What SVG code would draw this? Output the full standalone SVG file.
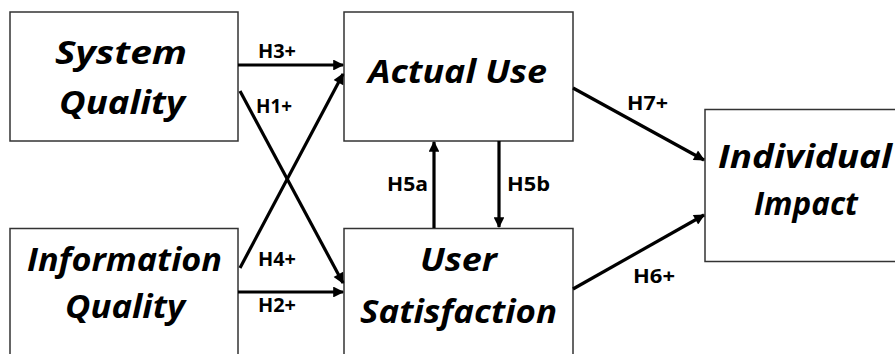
<svg xmlns="http://www.w3.org/2000/svg" width="895" height="354" viewBox="0 0 895 354">
<defs>
<marker id="ah" viewBox="0 0 10 10" refX="9" refY="5" markerWidth="4" markerHeight="3.4" orient="auto" markerUnits="strokeWidth">
<path d="M0,0 L10,5 L0,10 z" fill="#000"/>
</marker>
<style>
.box{fill:#fff;stroke:#333;stroke-width:1.5}
.big{font-family:"Open Sans","Noto Sans",sans-serif;font-weight:bold;font-style:italic;font-size:33px;fill:#000;text-anchor:middle}
.lbl{font-family:"Open Sans","Noto Sans",sans-serif;font-weight:bold;font-size:20px;fill:#000}
.con{stroke:#000;stroke-width:3.2;fill:none;marker-end:url(#ah)}
</style>
</defs>
<rect width="895" height="354" fill="#fff"/>
<g id="system-quality">
<rect class="box" x="10" y="12" width="228" height="129"/>
<text class="big" x="121" y="64" textLength="132" lengthAdjust="spacingAndGlyphs">System</text>
<text class="big" x="122" y="114" textLength="126" lengthAdjust="spacingAndGlyphs">Quality</text>
</g>
<g id="information-quality">
<rect class="box" x="10" y="228.5" width="228" height="140"/>
<text class="big" x="124.5" y="271" textLength="195" lengthAdjust="spacingAndGlyphs">Information</text>
<text class="big" x="125" y="318" textLength="120" lengthAdjust="spacingAndGlyphs">Quality</text>
</g>
<g id="actual-use">
<rect class="box" x="344" y="12" width="229" height="129"/>
<text class="big" x="457.5" y="83" textLength="179" lengthAdjust="spacingAndGlyphs">Actual Use</text>
</g>
<g id="user-satisfaction">
<rect class="box" x="344" y="228.5" width="229" height="140"/>
<text class="big" x="458.5" y="271" textLength="77" lengthAdjust="spacingAndGlyphs">User</text>
<text class="big" x="458.5" y="323" textLength="197" lengthAdjust="spacingAndGlyphs">Satisfaction</text>
</g>
<g id="individual-impact">
<rect class="box" x="705" y="109.5" width="220" height="152"/>
<text class="big" x="805" y="168" textLength="174" lengthAdjust="spacingAndGlyphs">Individual</text>
<text class="big" x="806" y="215" textLength="104" lengthAdjust="spacingAndGlyphs">Impact</text>
</g>
<g id="connectors">
<line class="con" x1="238" y1="65" x2="343" y2="65"/>
<line class="con" x1="240" y1="91" x2="343" y2="283"/>
<line class="con" x1="240" y1="268" x2="343" y2="74"/>
<line class="con" x1="238" y1="292" x2="343" y2="292"/>
<line class="con" x1="434" y1="228" x2="434" y2="142"/>
<line class="con" x1="499" y1="141" x2="499" y2="227"/>
<line class="con" x1="573" y1="88" x2="704" y2="160"/>
<line class="con" x1="573" y1="289" x2="704" y2="215"/>
</g>
<g id="labels">
<text class="lbl" x="258" y="58" textLength="38" lengthAdjust="spacingAndGlyphs">H3+</text>
<text class="lbl" x="256" y="113" textLength="36" lengthAdjust="spacingAndGlyphs">H1+</text>
<text class="lbl" x="258" y="266" textLength="38" lengthAdjust="spacingAndGlyphs">H4+</text>
<text class="lbl" x="258" y="312" textLength="38" lengthAdjust="spacingAndGlyphs">H2+</text>
<text class="lbl" x="387" y="191" textLength="41" lengthAdjust="spacingAndGlyphs">H5a</text>
<text class="lbl" x="507" y="191" textLength="43" lengthAdjust="spacingAndGlyphs">H5b</text>
<text class="lbl" x="627" y="110" textLength="41" lengthAdjust="spacingAndGlyphs">H7+</text>
<text class="lbl" x="633" y="283" textLength="42" lengthAdjust="spacingAndGlyphs">H6+</text>
</g>
</svg>
